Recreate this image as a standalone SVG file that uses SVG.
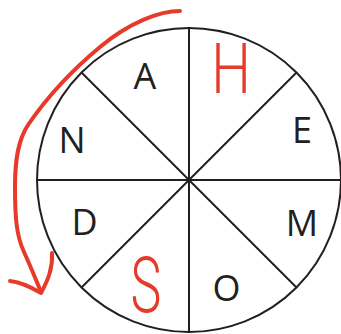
<svg xmlns="http://www.w3.org/2000/svg" width="341" height="334" viewBox="0 0 341 334">
<style>
.ln{stroke:#231f20;stroke-width:2;fill:none}
.lt{font-family:"Open Sans","Liberation Sans",sans-serif;font-size:36px;fill:#231f20;text-anchor:middle}
.rd{font-family:Roboto,"Liberation Sans",sans-serif;font-weight:300;fill:#e63a2a;text-anchor:middle}
.ar{stroke:#e63a2a;stroke-width:4;fill:none;stroke-linecap:round;stroke-linejoin:round}
</style>
<rect width="341" height="334" fill="#fff"/>
<g id="wheel">
<circle class="ln" cx="189" cy="180" r="152"/>
</g>
<g id="connectors">
<line class="ln" x1="189" y1="28" x2="189" y2="332"/>
<line class="ln" x1="37" y1="180" x2="341" y2="180"/>
<line class="ln" x1="81.5" y1="72.5" x2="296.5" y2="287.5"/>
<line class="ln" x1="296.5" y1="72.5" x2="81.5" y2="287.5"/>
</g>
<g id="A"><text class="lt" x="145" y="89">A</text></g>
<g id="H"><text class="rd" transform="translate(231,93) scale(1,1.25)" font-size="56">H</text></g>
<g id="E"><text class="lt" x="302" y="143">E</text></g>
<g id="M"><text class="lt" x="302" y="236">M</text></g>
<g id="O"><text class="lt" x="226.5" y="301">O</text></g>
<g id="S"><text class="rd" transform="translate(146,312) scale(1,1.5)" font-size="52">S</text></g>
<g id="D"><text class="lt" x="84.5" y="235">D</text></g>
<g id="N"><text class="lt" x="72" y="153">N</text></g>
<g id="arrow">
<path class="ar" d="M180,11 C160,11 130,22 100,47 C70,72 45,100 28,125 C18,140 15,160 15,187 C15,215 16,235 24,252 C30,265 36,280 41,292"/>
<path class="ar" d="M10,281 C22,282 32,288 41,293 C48,280 53,268 52,253"/>
</g>
</svg>
